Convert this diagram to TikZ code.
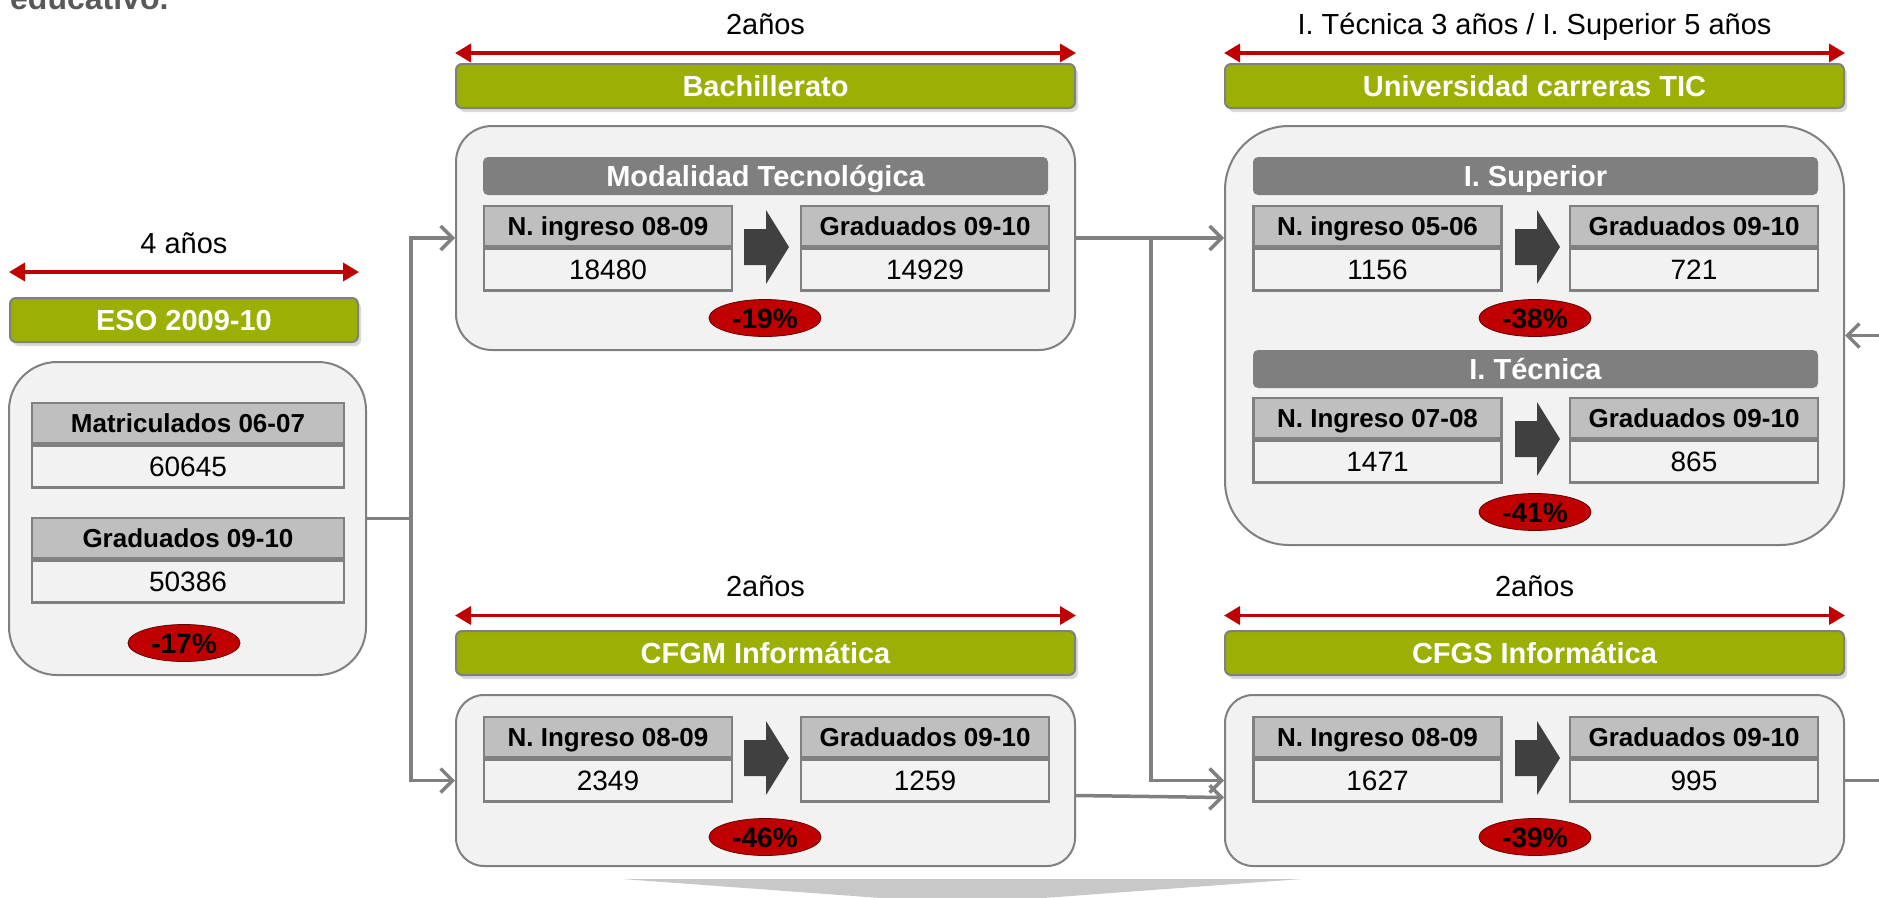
\documentclass[tikz,border=0pt]{standalone}
\usepackage{fontspec}
\setmainfont{Liberation Sans}
\definecolor{verdeOliva}{HTML}{9BAF05}
\definecolor{rojoOscuro}{HTML}{C00000}
\definecolor{grisBorde}{HTML}{808080}
\definecolor{grisFondo}{HTML}{F2F2F2}
\definecolor{grisCabecera}{HTML}{BFBFBF}
\definecolor{grisTitulo}{HTML}{7F7F7F}
\definecolor{grisFlecha}{HTML}{404040}
\definecolor{grisTexto}{HTML}{595959}
\definecolor{grisCuna}{HTML}{C8C8C8}
\usetikzlibrary{arrows.meta,positioning,shapes.geometric,shadows}

% table: name, centre x, top y, width, header, value
\newcommand{\tabla}[6]{%
  \node[cabecera, minimum width=#4] (#1h) at (#2,#3+20) {#5};
  \node[valor, minimum width=#4, below=0pt of #1h] (#1v) {#6};
}
% block arrow: name, left x, centre y
\newcommand{\flecha}[3]{%
  \fill[grisFlecha] (#2,#3-18) -- ++(22,0) -- ++(0,-19) -- (#2+45,#3)
    -- (#2+22,#3+37) -- ++(0,-19) -- (#2,#3+18) -- cycle;
  \coordinate (#1) at (#2+22,#3);
}

\begin{document}
\begin{tikzpicture}[x=1pt, y=-1pt,
    caja/.style={draw=grisBorde, fill=grisFondo, line width=2pt},
    barra/.style={draw=grisBorde, fill=verdeOliva, line width=2pt, rounded corners=6pt,
      minimum height=44, text height=21pt, text depth=0pt, text=white,
      font=\fontsize{29}{34}\selectfont\bfseries,
      drop shadow={shadow xshift=3pt, shadow yshift=-4pt, opacity=0.3}},
    titulo/.style={fill=grisTitulo, rounded corners=5pt, minimum height=38, inner sep=0pt,
      text height=21pt, text depth=0pt, text=white, font=\fontsize{29}{34}\selectfont\bfseries},
    cabecera/.style={draw=grisBorde, fill=grisCabecera, line width=2.5pt, minimum height=40,
      inner sep=0pt, text height=18.6pt, text depth=0pt, font=\fontsize{26}{30}\selectfont\bfseries},
    valor/.style={draw=grisBorde, fill=grisFondo, line width=2.5pt, minimum height=42,
      inner sep=0pt, text height=20pt, text depth=0pt, font=\fontsize{28}{32}\selectfont},
    porcentaje/.style={ellipse, fill=rojoOscuro, draw=red!40!black, line width=0.8pt,
      minimum width=112, minimum height=37, inner sep=0pt, text height=20pt, text depth=0pt,
      font=\fontsize{28}{32}\selectfont\bfseries},
    etiqueta/.style={font=\fontsize{29}{34}\selectfont, inner sep=0pt, anchor=base, yshift=19pt},
    duracion/.style={draw=rojoOscuro, line width=3.5pt,
      {Triangle[length=16pt,width=18pt]}-{Triangle[length=16pt,width=18pt]}},
    conector/.style={draw=grisBorde, line width=3.5pt, -{Straight Barb[length=12pt,width=24pt]}},
    linea/.style={draw=grisBorde, line width=3.5pt}]
  \useasboundingbox (0,0) rectangle (1879,897);

  % Heading (cut off at the top)
  \node[anchor=base west, inner sep=0pt, text=grisTexto, font=\fontsize{32}{38}\selectfont\bfseries]
    (encabezado) at (10,9) {educativo.};

  % ESO
  \node[barra, minimum width=348] (barraEso) at (184,320) {ESO 2009-10};
  \draw[duracion] ([yshift=25pt]barraEso.north west) -- ([yshift=25pt]barraEso.north east)
    node[midway, etiqueta] (durEso) {4 años};
  \node[caja, rounded corners=48pt, minimum width=357, minimum height=313] (eso) at (187.5,518.5) {};
  \tabla{esoMat}{188}{403}{312}{Matriculados 06-07}{60645}
  \tabla{esoGrad}{188}{518}{312}{Graduados 09-10}{50386}
  \node[porcentaje] (pEso) at (184,643) {-17\%};

  % Bachillerato
  \node[barra, minimum width=619] (barraBach) at (765.5,86) {Bachillerato};
  \draw[duracion] ([yshift=10pt]barraBach.north west) -- ([yshift=10pt]barraBach.north east)
    node[midway, etiqueta] (durBach) {2años};
  \node[caja, rounded corners=36pt, minimum width=619, minimum height=224] (bach) at (765.5,238) {};
  \node[titulo, minimum width=565] (modTec) at (765.5,176) {Modalidad Tecnológica};
  \tabla{bachIn}{608}{206}{248}{N. ingreso 08-09}{18480}
  \flecha{fBach}{744}{247}
  \tabla{bachOut}{925}{206}{248}{Graduados 09-10}{14929}
  \node[porcentaje] (pBach) at (765,318) {-19\%};

  % Universidad
  \node[barra, minimum width=619] (barraUni) at (1534.5,86) {Universidad carreras TIC};
  \draw[duracion] ([yshift=10pt]barraUni.north west) -- ([yshift=10pt]barraUni.north east)
    node[midway, etiqueta] (durUni) {I. Técnica 3 años / I. Superior 5 años};
  \node[caja, rounded corners=64pt, minimum width=619, minimum height=419] (uni) at (1534.5,335.5) {};
  \node[titulo, minimum width=565] (iSup) at (1535.5,176) {I. Superior};
  \tabla{supIn}{1377.5}{206}{248}{N. ingreso 05-06}{1156}
  \flecha{fSup}{1515}{247}
  \tabla{supOut}{1694}{206}{248}{Graduados 09-10}{721}
  \node[porcentaje] (pSup) at (1535,318) {-38\%};
  \node[titulo, minimum width=565] (iTec) at (1535.5,369) {I. Técnica};
  \tabla{tecIn}{1377.5}{398}{248}{N. Ingreso 07-08}{1471}
  \flecha{fTec}{1515}{439}
  \tabla{tecOut}{1694}{398}{248}{Graduados 09-10}{865}
  \node[porcentaje] (pTec) at (1535,512) {-41\%};

  % CFGM
  \node[barra, minimum width=619] (barraCfgm) at (765.5,653) {CFGM Informática};
  \draw[duracion] ([yshift=14.5pt]barraCfgm.north west) -- ([yshift=14.5pt]barraCfgm.north east)
    node[midway, etiqueta] (durCfgm) {2años};
  \node[caja, rounded corners=28pt, minimum width=619, minimum height=171] (cfgm) at (765.5,780.5) {};
  \tabla{cfgmIn}{608}{717}{248}{N. Ingreso 08-09}{2349}
  \flecha{fCfgm}{744}{758}
  \tabla{cfgmOut}{925}{717}{248}{Graduados 09-10}{1259}
  \node[porcentaje] (pCfgm) at (765,837) {-46\%};

  % CFGS
  \node[barra, minimum width=619] (barraCfgs) at (1534.5,653) {CFGS Informática};
  \draw[duracion] ([yshift=14.5pt]barraCfgs.north west) -- ([yshift=14.5pt]barraCfgs.north east)
    node[midway, etiqueta] (durCfgs) {2años};
  \node[caja, rounded corners=28pt, minimum width=619, minimum height=171] (cfgs) at (1534.5,780.5) {};
  \tabla{cfgsIn}{1377.5}{717}{248}{N. Ingreso 08-09}{1627}
  \flecha{fCfgs}{1515}{758}
  \tabla{cfgsOut}{1694}{717}{248}{Graduados 09-10}{995}
  \node[porcentaje] (pCfgs) at (1535,837) {-39\%};

  % Connectors
  \coordinate (nudoEso) at ([xshift=44pt]eso.east);
  \draw[linea] (eso.east) -- (nudoEso);
  \draw[conector] (nudoEso) |- (bach.west);
  \draw[conector] (nudoEso) |- (cfgm.west);
  \coordinate (nudoBach) at ([xshift=75pt]bach.east);
  \draw[linea] (bach.east) -- (nudoBach);
  \draw[conector] (nudoBach) -- (uni.west |- nudoBach);
  \draw[conector] (nudoBach) |- (cfgs.west);
  \draw[conector] ([yshift=-15pt]cfgm.east) -- ([yshift=-17pt]cfgs.west);
  \coordinate (salidaCfgs) at (1879,780.5);
  \draw[linea] (cfgs.east) -- (salidaCfgs);
  \coordinate (entradaUni) at (1879,335.5);
  \draw[conector] (entradaUni) -- (uni.east);

  % Bottom wedge
  \fill[grisCuna] (622,879) -- (1302,879) -- (962,904) -- cycle;
\end{tikzpicture}
\end{document}
